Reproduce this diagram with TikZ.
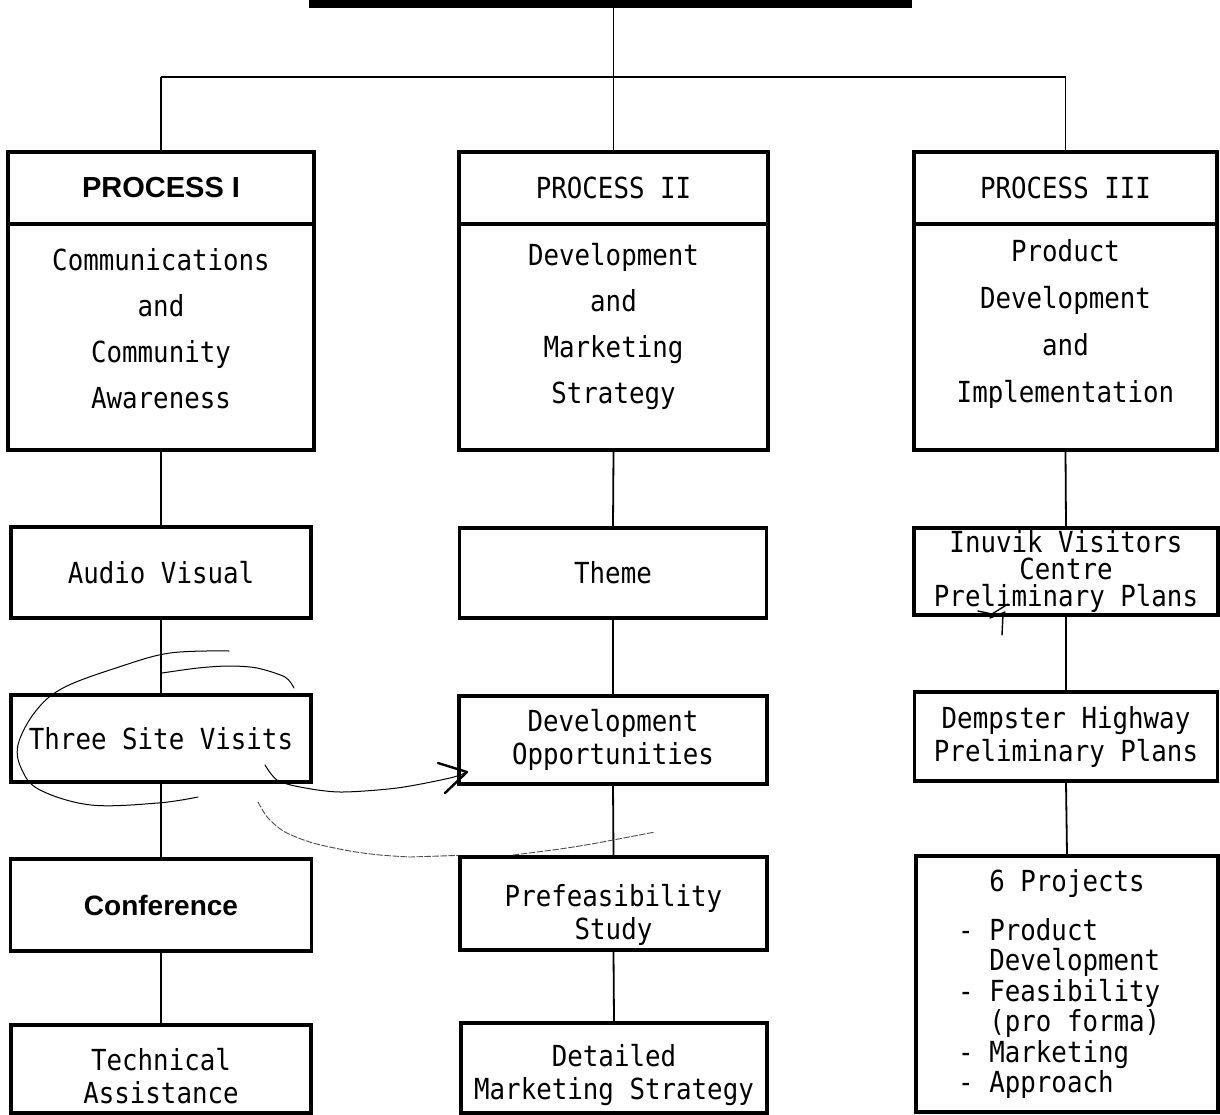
\documentclass[tikz,border=0pt]{standalone}
\usepackage{fontspec}
\newfontfamily\tw[FakeStretch=0.89]{DejaVu Sans Mono}
\newfontfamily\hv{Liberation Sans}
\begin{document}
\begin{tikzpicture}[x=1pt,y=-1pt,
  box/.style={draw,line width=3.2pt,rectangle,inner sep=0pt,align=center,
    font=\tw\fontsize{29}{33}\selectfont},
  txt/.style={inner sep=0pt,align=center,font=\tw\fontsize{29}{33}\selectfont},
  conn/.style={line width=1.8pt},
  pen/.style={line width=1pt,line cap=round,line join=round},
  faint/.style={line width=0.9pt,dash pattern=on 6pt off 2pt,black!70,line cap=round}]
\useasboundingbox (0,0) rectangle (1220,1115);

% top bar
\node[fill,minimum width=603pt,minimum height=8pt,inner sep=0pt] (top) at (610.5,4) {};
\coordinate (jn) at (613.5,77);

% process boxes
\node[box,minimum width=306pt,minimum height=72pt] (p1h) at (161,188)
  {\hv\bfseries\fontsize{29}{32}\selectfont PROCESS I};
\node[box,minimum width=306pt,minimum height=226pt] (p1b) at (161,337) {};
\node[txt,font=\tw\fontsize{29}{46}\selectfont] (p1t) at (161,329)
  {Communications\\and\\Community\\Awareness};
\node[box,minimum width=309pt,minimum height=72pt] (p2h) at (613.5,188) {PROCESS II};
\node[box,minimum width=309pt,minimum height=226pt] (p2b) at (613.5,337) {};
\node[txt,font=\tw\fontsize{29}{46}\selectfont] (p2t) at (613.5,327)
  {Development\\and\\Marketing\\Strategy};
\node[box,minimum width=303pt,minimum height=72pt] (p3h) at (1065.5,188) {PROCESS III};
\node[box,minimum width=303pt,minimum height=226pt] (p3b) at (1065.5,337) {};
\node[txt,font=\tw\fontsize{29}{47}\selectfont] (p3t) at (1065.5,324)
  {Product\\Development\\and\\Implementation};

% column 1
\node[box,minimum width=300pt,minimum height=91pt] (av) at (161,572.5) {Audio Visual};
\node[box,minimum width=300pt,minimum height=87pt] (tsv) at (161,738.5) {Three Site Visits};
\node[box,minimum width=301pt,minimum height=92pt] (cf) at (161,905)
  {\hv\bfseries\fontsize{28}{30}\selectfont Conference};
\node[box,minimum width=300pt,minimum height=88pt] (ta) at (161,1069) {};
\node[txt] (tat) at (161,1076) {Technical\\Assistance};

% column 2
\node[box,minimum width=307pt,minimum height=90pt] (th) at (613,573) {Theme};
\node[box,minimum width=308pt,minimum height=88pt] (do) at (613,740) {Development\\Opportunities};
\node[box,minimum width=307pt,minimum height=93pt] (pf) at (613.5,903.5) {};
\node[txt] (pft) at (613.5,915) {Prefeasibility\\Study};
\node[box,minimum width=306pt,minimum height=90pt] (dm) at (614,1068) {};
\node[txt] (dmt) at (614,1075) {Detailed\\Marketing Strategy};

% column 3
\node[box,minimum width=304pt,minimum height=87pt,font=\tw\fontsize{29}{27}\selectfont] (iv) at (1066,571.5)
  {Inuvik Visitors\\Centre\\Preliminary Plans};
\node[box,minimum width=303pt,minimum height=89pt] (dh) at (1066,736.5) {Dempster Highway\\Preliminary Plans};
\node[box,minimum width=302pt,minimum height=256pt,align=left,font=\tw\fontsize{29}{30.5}\selectfont] (sp) at (1067,984)
  {\hphantom{xx}6 Projects\\[18pt]- Product\\\hphantom{xx}Development\hphantom{x}\\- Feasibility\\\hphantom{xx}(pro forma)\\- Marketing\\- Approach};

% connectors
\draw[conn] (top.south -| p2h.north) -- (p2h.north);
\draw[conn] (p1h.north |- jn) -- (p3h.north |- jn);
\draw[conn] (p1h.north |- jn) -- (p1h.north);
\draw[conn] (p3h.north |- jn) -- (p3h.north);
\draw[conn] (p1b.south) -- (av.north);
\draw[conn] (av.south) -- (tsv.north);
\draw[conn] (tsv.south) -- (cf.north);
\draw[conn] (cf.south) -- (ta.north);
\draw[conn] (p2b.south) -- (th.north);
\draw[conn] (th.south) -- (do.north);
\draw[conn] (do.south) -- (pf.north);
\draw[conn] (pf.south) -- (dm.north);
\draw[conn] (p3b.south) -- (iv.north);
\draw[conn] (iv.south) -- (dh.north);
\draw[conn] (dh.south) -- (sp.north);

% hand-drawn annotations
\draw[pen] plot[smooth,tension=0.6] coordinates {(198,797) (158,803) (91,805) (40,790) (22,770) (18,745) (35,712) (63,688) (119,667) (170,653) (229,651)};
\draw[pen] plot[smooth] coordinates {(162,673) (198,668) (229,666) (257,668) (285,677) (294,688)};
\draw[pen] plot[smooth] coordinates {(265,765) (277,780) (300,787) (340,792) (397,788) (450,778) (467,772)};
\draw[line width=2.4pt,line cap=round,line join=round] (438,763) -- (467,772) -- (445,793);
\draw[faint] plot[smooth] coordinates {(258,802) (268,818) (285,832) (313,843) (350,851) (380,855) (410,857)} -- (pf.north west);
\draw[faint] plot[smooth] coordinates {(513,855) (560,849) (597,843) (655,832)};
\draw[line width=1.4pt,line cap=round,line join=round] (978,611) -- (992,614) -- (1008,604);
\draw[line width=1.4pt,line cap=round] (990,618) -- (1005,612);
\draw[line width=1.4pt,line cap=round] (1003,614) -- (1002,635);
\end{tikzpicture}
\end{document}
